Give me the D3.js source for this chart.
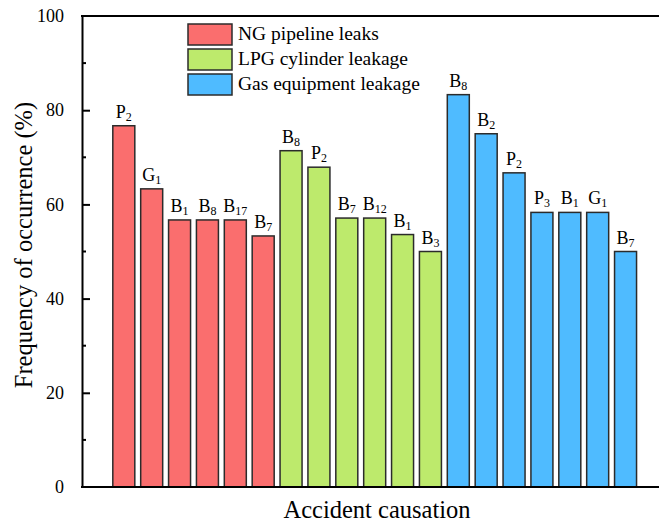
<!DOCTYPE html>
<html>
<head>
<meta charset="utf-8">
<script src="https://cdn.jsdelivr.net/npm/d3@7"></script>
<style>
  html, body { margin: 0; padding: 0; background: #fff; }
  svg { display: block; font-family: "Liberation Serif", "Times New Roman", serif; }
</style>
</head>
<body>
<svg id="chart" width="659" height="524"></svg>
<script>
// series names and colours
var groupNames = ["NG pipeline leaks", "LPG cylinder leakage", "Gas equipment leakage"];
var groupColors = ["#fa6e6e", "#bdea6c", "#4fbbff"];

// causes and frequency (%) per group
var ngCauses = ["P2", "G1", "B1", "B8", "B17", "B7"];
var ngValues = [76.7, 63.3, 56.7, 56.7, 56.7, 53.3];
var lpgCauses = ["B8", "P2", "B7", "B12", "B1", "B3"];
var lpgValues = [71.4, 67.9, 57.1, 57.1, 53.6, 50.0];
var gasCauses = ["B8", "B2", "P2", "P3", "B1", "G1", "B7"];
var gasValues = [83.3, 75.0, 66.7, 58.3, 58.3, 58.3, 50.0];

var yMajorTicks = [0, 20, 40, 60, 80, 100];
var yMinorTicks = [10, 30, 50, 70, 90];

var bars = [];
[[ngCauses, ngValues], [lpgCauses, lpgValues], [gasCauses, gasValues]].forEach(function (g, gi) {
    g[0].forEach(function (c, i) {
        bars.push({ cause: c, value: g[1][i], group: gi, index: bars.length });
    });
});

var svg = d3.select("#chart");
var plotLeft = 82, plotRight = 659, plotTop = 16, plotBottom = 487;

var x = d3.scaleLinear().domain([-1.5, 19.2]).range([plotLeft, plotRight]);
var y = d3.scaleLinear().domain([0, 100]).range([plotBottom, plotTop]);
var barWidth = 22;

// bars
svg.append("g").selectAll("rect")
    .data(bars)
    .enter().append("rect")
    .attr("x", function (d) { return x(d.index) - barWidth / 2; })
    .attr("y", function (d) { return y(d.value); })
    .attr("width", barWidth)
    .attr("height", function (d) { return y(0) - y(d.value); })
    .attr("fill", function (d) { return groupColors[d.group]; })
    .attr("stroke", "#2b2b2b")
    .attr("stroke-width", 1.5);

// labels with subscript numbers
var lbl = svg.append("g").selectAll("text")
    .data(bars)
    .enter().append("text")
    .attr("x", function (d) { return x(d.index); })
    .attr("y", function (d) { return y(d.value) - 8; })
    .attr("text-anchor", "middle")
    .attr("font-size", 18)
    .attr("fill", "#000");
lbl.append("tspan").text(function (d) { return d.cause.charAt(0); });
lbl.append("tspan")
    .attr("font-size", 12)
    .attr("dy", 3)
    .text(function (d) { return d.cause.slice(1); });

// y axis
var yAxis = d3.axisLeft(y).tickValues(yMajorTicks).tickSizeInner(-8).tickSizeOuter(0).tickPadding(18);
var ya = svg.append("g").attr("transform", "translate(" + plotLeft + ",0)").call(yAxis);
ya.select(".domain").attr("stroke", "#000").attr("stroke-width", 2);
ya.selectAll(".tick line").attr("stroke", "#000").attr("stroke-width", 2);
ya.selectAll(".tick text")
    .attr("font-size", 18)
    .attr("font-family", "Liberation Serif")
    .attr("fill", "#000");
ya.selectAll(".tick").filter(function (d) { return d === 0 || d === 100; }).select("line").remove();

svg.append("g").selectAll("line")
    .data(yMinorTicks)
    .enter().append("line")
    .attr("x1", plotLeft).attr("x2", plotLeft + 4)
    .attr("y1", function (d) { return y(d); })
    .attr("y2", function (d) { return y(d); })
    .attr("stroke", "#000").attr("stroke-width", 2);

// x axis line and top frame
svg.append("line").attr("x1", plotLeft - 1).attr("x2", plotRight).attr("y1", plotBottom).attr("y2", plotBottom)
    .attr("stroke", "#000").attr("stroke-width", 2);
svg.append("line").attr("x1", plotLeft - 1).attr("x2", plotRight).attr("y1", plotTop).attr("y2", plotTop)
    .attr("stroke", "#000").attr("stroke-width", 2);

// titles
svg.append("text")
    .attr("x", 377).attr("y", 518)
    .attr("text-anchor", "middle")
    .attr("font-size", 24.5)
    .text("Accident causation");
svg.append("text")
    .attr("transform", "translate(32,245) rotate(-90)")
    .attr("text-anchor", "middle")
    .attr("font-size", 24.5)
    .text("Frequency of occurrence (%)");

// legend
var legend = svg.append("g").selectAll("g")
    .data(groupNames)
    .enter().append("g")
    .attr("transform", function (d, i) { return "translate(188," + (24 + i * 25) + ")"; });
legend.append("rect")
    .attr("width", 44).attr("height", 21)
    .attr("fill", function (d, i) { return groupColors[i]; })
    .attr("stroke", "#2b2b2b").attr("stroke-width", 1.5);
legend.append("text")
    .attr("x", 50).attr("y", 16)
    .attr("font-size", 19.5)
    .text(function (d) { return d; });
</script>
</body>
</html>
